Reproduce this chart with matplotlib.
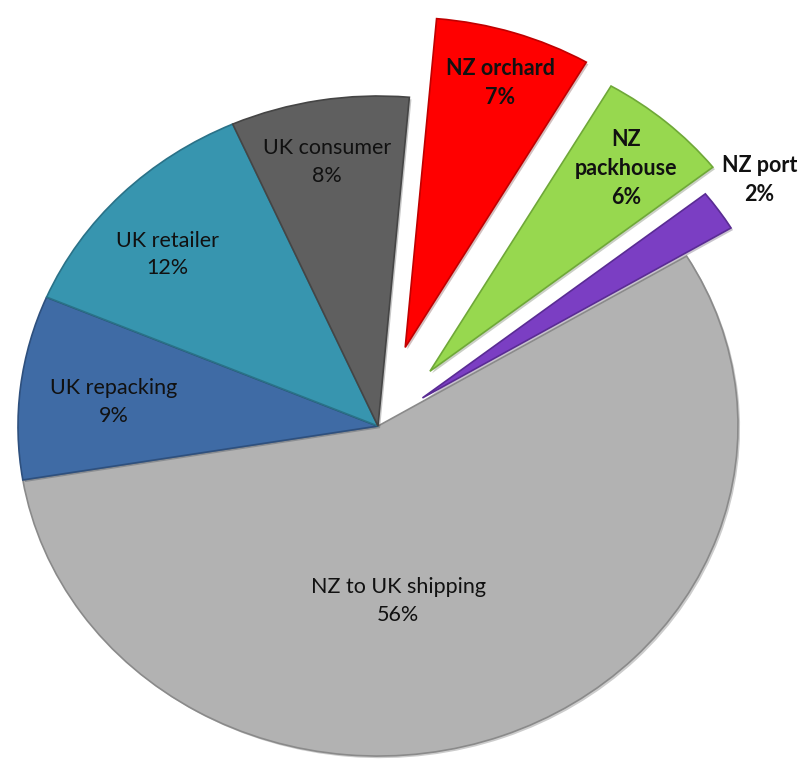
import matplotlib.pyplot as plt
import matplotlib.patheffects as pe
import numpy as np

# Share of the total for each stage of the supply chain
stages = ['NZ orchard', 'NZ packhouse', 'NZ port', 'NZ to UK shipping',
          'UK repacking', 'UK retailer', 'UK consumer']
shares = [7, 6, 2, 56, 9, 12, 8]

colors = ['#FF0000', '#97D84F', '#7B3EC3', '#B2B2B2',
          '#3F6BA5', '#3795AF', '#5F5F5F']
edge_colors = ['#C00000', '#6FA838', '#5A2C94', '#8A8A8A',
               '#2E507E', '#2A7288', '#454545']
explode = [0.25, 0.22, 0.15, 0, 0, 0, 0]

# the NZ stages get bold labels
bold = [True, True, True, False, False, False, False]
# label text split over lines
label_lines = ['NZ orchard', 'NZ\npackhouse', 'NZ port', 'NZ to UK shipping',
               'UK repacking', 'UK retailer', 'UK consumer']
# label anchor (x, y) in axes data units
label_pos = [(0.34, 1.04), (0.69, 0.78), (1.06, 0.745), (0.056, -0.53),
             (-0.733, 0.073), (-0.586, 0.521), (-0.142, 0.80)]

plt.rcParams['font.family'] = ['Lato', 'DejaVu Sans']

fig = plt.figure(figsize=(8.03, 7.62), dpi=100)
ax = fig.add_axes([0, 0, 1, 1])

wedges, _ = ax.pie(shares, explode=explode, colors=colors, startangle=85,
                   counterclock=False, radius=1.0,
                   wedgeprops=dict(linewidth=1.2))

for w, ec in zip(wedges, edge_colors):
    w.set_edgecolor(ec)
    w.set_path_effects([pe.SimplePatchShadow(offset=(1.5, -1.5), alpha=0.25),
                        pe.Normal()])

for txt, pct, (x, y), b in zip(label_lines, shares, label_pos, bold):
    ax.text(x, y, f'{txt}\n{pct}%', ha='center', va='center',
            fontsize=15.5, fontweight='bold' if b else 'normal',
            color='#111111', linespacing=1.45)

# stretch the pie a little wider than tall
ax.set_aspect('auto')
ax.set_xlim(-1.05, 1.1806)
ax.set_ylim(-1.018, 1.291)
ax.axis('off')

fig.savefig('out.png', dpi=100, facecolor='white')
